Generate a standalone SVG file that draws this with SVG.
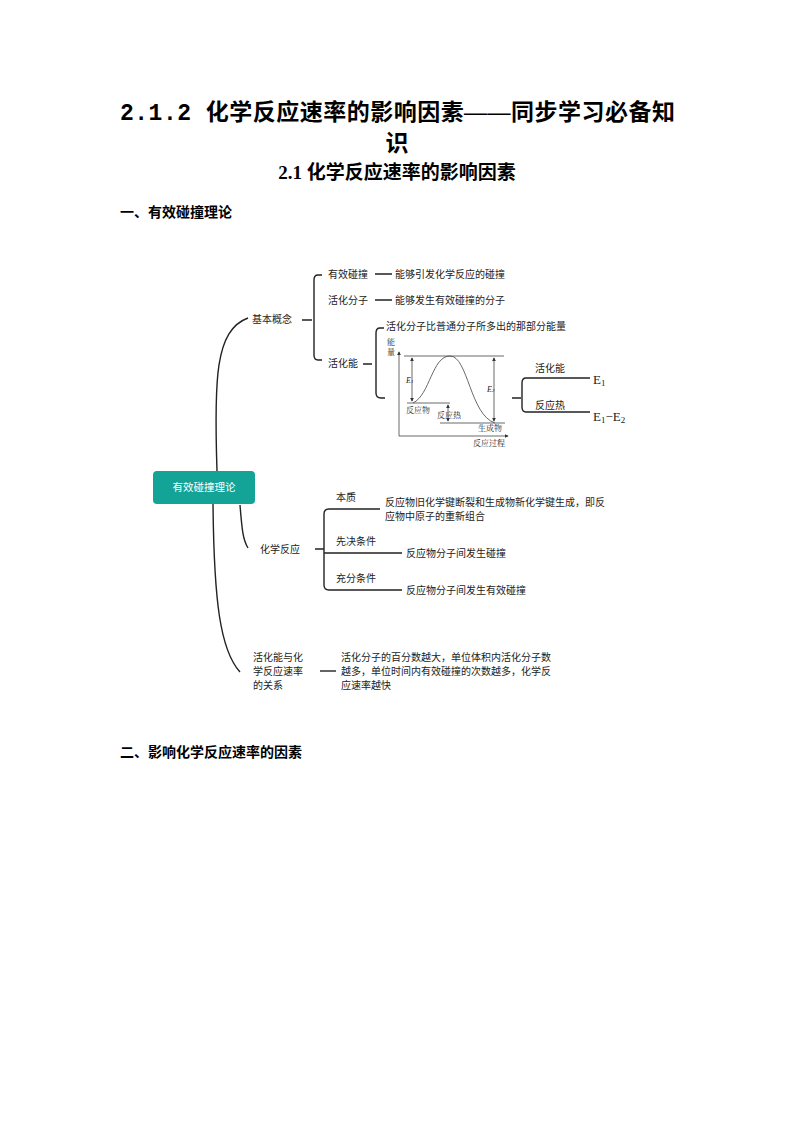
<svg xmlns="http://www.w3.org/2000/svg" width="794" height="1123" viewBox="0 0 794 1123">
<style>
.t{font-family:"Noto Sans CJK SC","Noto Sans",sans-serif;font-size:10px;fill:#222}
.h{font-family:"Liberation Serif","Noto Sans CJK SC",serif;font-weight:bold;fill:#000}
.s{font-family:"Liberation Serif","Noto Serif CJK SC","Noto Sans CJK SC",serif;fill:#222}
.l{fill:none;stroke:#222;stroke-width:1.4}
.g{fill:none;stroke:#444;stroke-width:0.8}
</style>
<defs><marker id="a" viewBox="0 0 6 6" refX="5" refY="3" markerWidth="5" markerHeight="5" orient="auto-start-reverse"><path d="M0,0L6,3L0,6z" fill="#333"/></marker></defs>
<rect width="794" height="1123" fill="#fff"/>
<text class="h" x="120" y="120" font-size="23" textLength="555" lengthAdjust="spacing"><tspan font-family="Liberation Mono,monospace">2.1.2 </tspan>化学反应速率的影响因素——同步学习必备知</text>
<text class="h" x="397" y="151" font-size="23" text-anchor="middle">识</text>
<text class="h" x="397" y="179" font-size="19" text-anchor="middle">2.1 化学反应速率的影响因素</text>
<text class="h" x="120" y="217" font-size="14">一、有效碰撞理论</text>
<text class="h" x="120" y="757" font-size="14">二、影响化学反应速率的因素</text>
<g id="connectors">
<path class="l" d="M217,471 C214,380 215,330 248,318"/>
<path class="l" d="M213,504 C214,600 220,650 240,672"/>
<path class="l" d="M240,505 C242,530 243,540 248,548"/>
<path class="l" d="M302,320 H312 M322,275 H318 Q314,275 314,280 V355 Q314,360 318,360 H322"/>
<path class="l" d="M375,274 H392 M375,300 H392 M363,364 H372 M384,328 H380 Q376,328 376,333 V393 Q376,398 381,398 H385"/>
<path class="l" d="M512,398 H521 M532,378 H526 Q522,378 522,383 V407 Q522,412 526,412 H532 M526,378 H590 M526,412 H590"/>
<path class="l" d="M315,549 H324 M380,509 H329 Q324,509 324,514 V585 Q324,590 329,590 H402 M324,553 H402"/>
<path class="l" d="M320,671 H336"/>
</g>
<g id="graph">
<path class="g" d="M399,436 V352" marker-end="url(#a)"/>
<path class="g" d="M399,436 H508" marker-end="url(#a)"/>
<path class="g" d="M404,356 H504 M407,403 H450 M440,423 H505"/>
<path class="g" d="M412,358 V401" marker-start="url(#a)" marker-end="url(#a)"/>
<path class="g" d="M494,358 V421" marker-start="url(#a)" marker-end="url(#a)"/>
<path class="g" d="M448,405 V421" marker-start="url(#a)" marker-end="url(#a)"/>
<path class="g" d="M413,403 C430,395 432,356 450,356 C468,356 470,415 495,423"/>
<text class="s" x="387" y="345" font-size="8">能</text>
<text class="s" x="387" y="355" font-size="8">量</text>
<text class="s" x="406" y="383" font-size="8" font-style="italic">E<tspan font-size="5">1</tspan></text>
<text class="s" x="487" y="392" font-size="8" font-style="italic">E<tspan font-size="5">2</tspan></text>
<text class="s" x="406" y="413" font-size="8">反应物</text>
<text class="s" x="437" y="418" font-size="8">反应热</text>
<text class="s" x="478" y="431" font-size="8">生成物</text>
<text class="s" x="473" y="446" font-size="8">反应过程</text>
</g>
<g id="n-root"><rect x="153" y="471" width="102" height="33" rx="4" fill="#13a397"/><text class="t" x="204" y="491" text-anchor="middle" style="fill:#fff;font-size:10.5px">有效碰撞理论</text></g>
<g id="n-basic"><text class="t" x="252" y="323">基本概念</text></g>
<g id="n-yx"><text class="t" x="328" y="278">有效碰撞</text><text class="t" x="395" y="278">能够引发化学反应的碰撞</text></g>
<g id="n-hf"><text class="t" x="328" y="304">活化分子</text><text class="t" x="395" y="304">能够发生有效碰撞的分子</text></g>
<g id="n-hn"><text class="t" x="328" y="367">活化能</text><text class="t" x="386" y="330">活化分子比普通分子所多出的那部分能量</text></g>
<g id="n-e"><text class="t" x="535" y="372">活化能</text><text class="t" x="535" y="409">反应热</text>
<text class="s" x="593" y="384" font-size="13">E<tspan font-size="9" dy="2">1</tspan></text>
<text class="s" x="593" y="421" font-size="13">E<tspan font-size="9" dy="2">1</tspan><tspan dy="-2">−E</tspan><tspan font-size="9" dy="2">2</tspan></text></g>
<g id="n-chem"><text class="t" x="260" y="553">化学反应</text>
<text class="t" x="336" y="501">本质</text>
<text class="t" x="385" y="506">反应物旧化学键断裂和生成物新化学键生成，即反</text>
<text class="t" x="385" y="520">应物中原子的重新组合</text>
<text class="t" x="336" y="545">先决条件</text><text class="t" x="406" y="557">反应物分子间发生碰撞</text>
<text class="t" x="336" y="582">充分条件</text><text class="t" x="406" y="594">反应物分子间发生有效碰撞</text></g>
<g id="n-rel"><text class="t" x="253" y="661">活化能与化</text><text class="t" x="253" y="675">学反应速率</text><text class="t" x="253" y="689">的关系</text>
<text class="t" x="341" y="661">活化分子的百分数越大，单位体积内活化分子数</text>
<text class="t" x="341" y="675">越多，单位时间内有效碰撞的次数越多，化学反</text>
<text class="t" x="341" y="689">应速率越快</text></g>
</svg>
